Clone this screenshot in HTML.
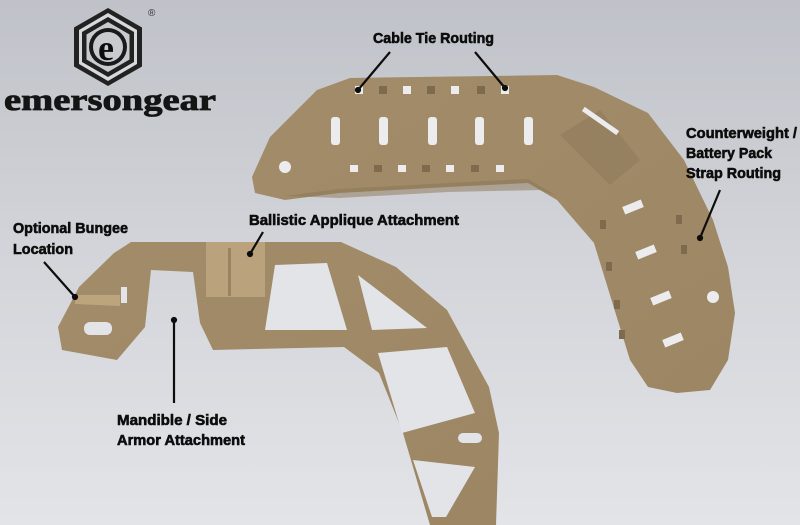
<!DOCTYPE html>
<html><head><meta charset="utf-8"><style>
html,body{margin:0;padding:0;width:800px;height:525px;overflow:hidden}
svg{display:block}
text{font-family:"Liberation Sans Narrow","Liberation Sans",sans-serif;font-weight:bold;fill:#0d0d0d}
</style></head><body>
<svg width="800" height="525" viewBox="0 0 800 525" xmlns="http://www.w3.org/2000/svg">
<defs>
<linearGradient id="bg" x1="0" y1="0" x2="0" y2="1">
<stop offset="0" stop-color="#bfc2c8"/><stop offset="0.5" stop-color="#d3d5da"/><stop offset="1" stop-color="#e3e4e8"/>
</linearGradient>
<linearGradient id="tan" x1="0" y1="0" x2="1" y2="1">
<stop offset="0" stop-color="#a28c69"/><stop offset="1" stop-color="#9c8664"/>
</linearGradient>
</defs>
<rect width="800" height="525" fill="url(#bg)"/>

<g transform="translate(108,47)">
<polygon points="0,-39 34,-19.5 34,19.5 0,39 -34,19.5 -34,-19.5" fill="#222"/>
<polygon points="0,-34 29,-17 29,17 0,34 -29,17 -29,-17" fill="#d8d9dc"/>
<polygon points="0,-30 26,-15 26,15 0,30 -26,15 -26,-15" fill="#222"/>
<polygon points="0,-25 21.5,-12.5 21.5,12.5 0,25 -21.5,12.5 -21.5,-12.5" fill="#c8cacd"/>
<circle r="19" fill="#1a1a1a"/>
<circle r="15" fill="#c8cacd"/>
<text x="-10" y="13" style="font-family:'Liberation Serif',serif;font-size:36px">e</text>
</g>
<text x="148" y="16" style="font-size:10px;font-weight:normal;fill:#333">®</text>
<text x="4" y="110" textLength="212" lengthAdjust="spacingAndGlyphs" style="font-family:'Liberation Serif',serif;font-size:31px;font-weight:bold;fill:#141414;stroke:#141414;stroke-width:0.8">emersongear</text>

<path d="M252,177 L270,137 L317,90 L350,78 L557,75 L594,87 L648,113 L684,160 L713,220 L728,267 L735,313 L728,360 L710,390 L677,393 L648,387 L630,360 L594,243 L557,200 L528,183 L448,187 L339,193 L285,200 L255,193 Z" fill="url(#tan)"/>
<path d="M560,135 L600,110 L640,160 L610,185 Z" fill="#8f7a5a" opacity="0.6"/>
<path d="M285,196 L339,189 L448,183 L528,179 L557,196 L540,190 L448,192 L339,198 Z" fill="#8a7556" opacity="0.5"/>
<g fill="#ececef">
<rect x="331" y="117" width="9" height="28" rx="3"/>
<rect x="379" y="117" width="9" height="28" rx="3"/>
<rect x="428" y="117" width="9" height="28" rx="3"/>
<rect x="475" y="117" width="9" height="28" rx="3"/>
<rect x="524" y="117" width="9" height="28" rx="3"/>
<rect x="355" y="86" width="8" height="8"/><rect x="403" y="86" width="8" height="8"/><rect x="451" y="86" width="8" height="8"/><rect x="501" y="86" width="8" height="8"/>
<rect x="350" y="165" width="8" height="7"/><rect x="398" y="165" width="8" height="7"/><rect x="446" y="165" width="8" height="7"/><rect x="496" y="165" width="8" height="7"/>
<circle cx="285" cy="167" r="6"/>
<circle cx="713" cy="297" r="6"/>
<rect x="623" y="203" width="20" height="8" transform="rotate(-22 633 207)"/>
<rect x="636" y="248" width="20" height="8" transform="rotate(-22 646 252)"/>
<rect x="651" y="294" width="20" height="8" transform="rotate(-22 661 298)"/>
<rect x="663" y="336" width="20" height="8" transform="rotate(-22 673 340)"/>
<rect x="580" y="118" width="42" height="5" transform="rotate(35 600 120)"/>
</g>
<g fill="#7e6a4d">
<rect x="379" y="86" width="8" height="8"/><rect x="427" y="86" width="8" height="8"/><rect x="477" y="86" width="8" height="8"/>
<rect x="374" y="165" width="8" height="7"/><rect x="422" y="165" width="8" height="7"/><rect x="471" y="165" width="8" height="7"/>
<rect x="600" y="220" width="6" height="9"/><rect x="606" y="262" width="6" height="9"/><rect x="614" y="300" width="6" height="9"/><rect x="619" y="330" width="6" height="9"/>
<rect x="676" y="215" width="6" height="9"/><rect x="681" y="245" width="6" height="9"/>
</g>

<path d="M131,242 L341,242 L396,267 L447,310 L489,387 L499,433 L496,525 L430,525 L403,433 L379,373 L344,347 L213,350 L200,323 L193,272 L151,270 L145,327 L117,360 L62,350 L58,327 L79,287 L114,253 Z" fill="url(#tan)"/>
<path d="M206,242 L265,242 L265,297 L206,297 Z" fill="#b9a27c"/>
<rect x="228" y="248" width="3" height="48" fill="#9a845f"/>
<path d="M75,295 L120,295 L120,306 L75,304 Z" fill="#bca47d"/>
<g fill="#e3e4e8">
<path d="M275,265 L327,263 L347,330 L265,330 Z"/>
<path d="M358,275 L427,328 L372,330 Z"/>
<path d="M378,353 L447,347 L475,413 L402,433 Z"/>
<path d="M413,460 L475,467 L446,517 L432,517 Z"/>
<rect x="458" y="433" width="24" height="10" rx="5"/>
<rect x="84" y="322" width="28" height="13" rx="6"/>
<rect x="121" y="287" width="6" height="16"/>
</g>

<g stroke="#0d0d0d" stroke-width="2.2" fill="#0d0d0d">
<line x1="390" y1="52" x2="358" y2="90"/><circle cx="358" cy="90" r="2"/>
<line x1="475" y1="52" x2="505" y2="88"/><circle cx="505" cy="88" r="2"/>
<line x1="720" y1="190" x2="700" y2="238"/><circle cx="700" cy="238" r="2"/>
<line x1="44" y1="262" x2="75" y2="297"/><circle cx="75" cy="297" r="2"/>
<line x1="263" y1="232" x2="250" y2="254"/><circle cx="250" cy="254" r="2"/>
<line x1="174" y1="320" x2="174" y2="403"/><circle cx="174" cy="320" r="2"/>
</g>

<g style="font-size:15px;stroke:#0d0d0d;stroke-width:0.6">
<text x="373" y="43" textLength="121" lengthAdjust="spacingAndGlyphs">Cable Tie Routing</text>
<text x="686" y="138" textLength="111" lengthAdjust="spacingAndGlyphs">Counterweight /</text>
<text x="686" y="158" textLength="86" lengthAdjust="spacingAndGlyphs">Battery Pack</text>
<text x="686" y="178" textLength="95" lengthAdjust="spacingAndGlyphs">Strap Routing</text>
<text x="249" y="225" textLength="210" lengthAdjust="spacingAndGlyphs">Ballistic Applique Attachment</text>
<text x="13" y="233" textLength="115" lengthAdjust="spacingAndGlyphs">Optional Bungee</text>
<text x="13" y="254" textLength="60" lengthAdjust="spacingAndGlyphs">Location</text>
<text x="117" y="425" textLength="110" lengthAdjust="spacingAndGlyphs">Mandible / Side</text>
<text x="117" y="445" textLength="128" lengthAdjust="spacingAndGlyphs">Armor Attachment</text>
</g>
</svg>
</body></html>
